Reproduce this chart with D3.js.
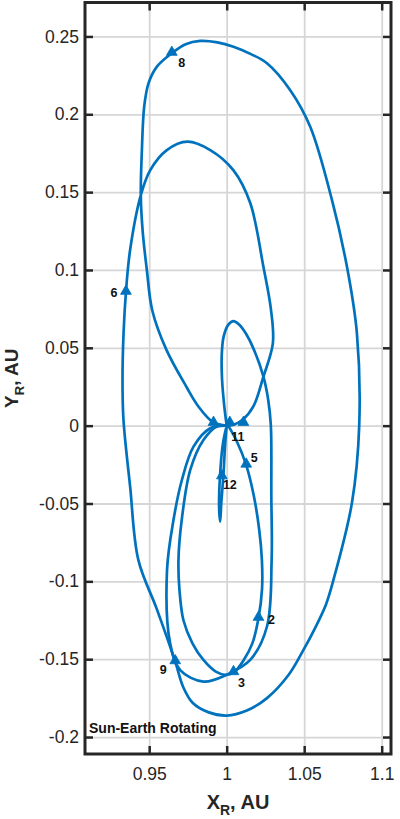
<!DOCTYPE html>
<html>
<head>
<meta charset="utf-8">
<script src="https://cdn.jsdelivr.net/npm/d3@7"></script>
<style>
  body { margin: 0; background: #fff; }
  svg { display: block; font-family: "Liberation Sans", Arial, Helvetica, sans-serif; }
</style>
</head>
<body>
<script>
// axis ticks
const xTicks = [0.95, 1, 1.05, 1.1];
const xTickLabels = ["0.95", "1", "1.05", "1.1"];
const yTicks = [-0.2, -0.15, -0.1, -0.05, 0, 0.05, 0.1, 0.15, 0.2, 0.25];
const yTickLabels = ["-0.2", "-0.15", "-0.1", "-0.05", "0", "0.05", "0.1", "0.15", "0.2", "0.25"];

// trajectory pieces, [X_R, Y_R] in AU
// small loop above Earth, then down the right leg and round the lower loop
const smallLoop = [
  [1.000, 0.000], [0.9985, 0.012], [0.997, 0.030], [0.9968, 0.045], [0.998, 0.057],
  [1.0012, 0.065], [1.0044, 0.0672], [1.008, 0.065], [1.0125, 0.059], [1.0175, 0.049],
  [1.0237, 0.0315], [1.0268, 0.0165], [1.0285, 0.000], [1.0288, -0.045], [1.029, -0.0862],
  [1.026, -0.129], [1.0152, -0.1505], [1.000, -0.160], [0.985, -0.1644], [0.970, -0.157],
  [0.9635, -0.1396], [0.9615, -0.093], [0.9657, -0.0605], [0.9711, -0.0349], [0.9786, -0.0135],
  [0.9894, -0.0017], [1.0, 0.0]
];
const lowerLoop = [
  [1.001, 0.0], [1.0065, -0.010], [1.0126, -0.0253], [1.0175, -0.045], [1.021, -0.067],
  [1.0227, -0.086], [1.0228, -0.105], [1.0205, -0.1237], [1.0165, -0.140], [1.011, -0.1505],
  [1.0044, -0.1586], [0.999, -0.160], [0.993, -0.158], [0.985, -0.1505], [0.978, -0.140],
  [0.9721, -0.125], [0.9695, -0.105], [0.9689, -0.086], [0.971, -0.0605], [0.9765, -0.0284],
  [0.985, -0.0092], [0.9937, -0.0005], [1.0, 0.0]
];
const outerLoop = [
  [1.0, 0.0], [0.9915, 0.002], [0.982, 0.012], [0.974, 0.025], [0.961, 0.049],
  [0.952, 0.074], [0.9485, 0.100], [0.9458, 0.125], [0.9446, 0.148], [0.9453, 0.177],
  [0.9468, 0.205], [0.9496, 0.220], [0.955, 0.2306], [0.9646, 0.2392], [0.9735, 0.2450],
  [0.9829, 0.2471], [0.994, 0.2462], [1.0044, 0.2434], [1.016, 0.2385], [1.026, 0.2328],
  [1.041, 0.2155], [1.0539, 0.192], [1.0679, 0.145], [1.0776, 0.102], [1.084, 0.0594],
  [1.0855, 0.0], [1.0808, -0.0496], [1.0687, -0.0997], [1.064, -0.115], [1.057, -0.130],
  [1.049, -0.145], [1.040, -0.160], [1.026, -0.175], [1.013, -0.183], [1.000, -0.1862],
  [0.988, -0.184], [0.978, -0.178], [0.972, -0.168], [0.9668, -0.1516], [0.955, -0.118],
  [0.943, -0.0862], [0.9377, -0.039], [0.9334, 0.004], [0.9328, 0.030], [0.9335, 0.060],
  [0.935, 0.0857], [0.9377, 0.1128], [0.9446, 0.148], [0.9506, 0.164], [0.9614, 0.177],
  [0.9747, 0.1824], [0.9894, 0.177], [1.0044, 0.164], [1.0152, 0.143], [1.0237, 0.102],
  [1.0285, 0.075], [1.0298, 0.053], [1.0237, 0.0315], [1.0173, 0.0125], [1.0105, 0.004],
  [1.004, 0.0005], [1.0, 0.0]
];
const finalLeg = [
  [1.0, 0.0], [0.999, -0.012], [0.998, -0.030], [0.9965, -0.050], [0.9958, -0.0617],
  [0.9951, -0.052], [0.9957, -0.032], [0.9975, -0.012], [0.9995, -0.002]
];

// monthly markers
const monthLabels = ["2", "3", "5", "6", "8", "9", "11", "12", "", ""];
const monthX = [1.0205, 1.0044, 1.0126, 0.935, 0.9646, 0.9668, 1.002, 0.9969, 0.9915, 1.0108];
const monthY = [-0.1237, -0.1586, -0.0253, 0.0857, 0.2392, -0.1516, 0.0015, -0.0328, 0.0015, 0.0015];

// label placement (pixels from marker)
const labelShift = {
  "2": [13, 2], "3": [8, 10], "5": [8, -7], "6": [-12, 1],
  "8": [10, 10], "9": [-12, 8], "11": [8, 14], "12": [8, 8]
};

var width = 400, height = 819;
var pL = 85, pR = 391, pT = 2.5, pB = 754;
var blue = "#0072BD", ink = "#262626";

var svg = d3.select("body").append("svg")
  .attr("width", width)
  .attr("height", height);

var x = d3.scaleLinear().domain([0.9086, 1.106]).range([pL, pR]);
var y = d3.scaleLinear().domain([-0.2109, 0.2718]).range([pB, pT]);

// grid
svg.append("g")
  .attr("transform", `translate(0,${pB})`)
  .call(d3.axisBottom(x).tickValues(xTicks).tickSize(-(pB - pT)).tickFormat(""))
  .call(g => g.select(".domain").remove())
  .call(g => g.selectAll("line").attr("stroke", "#d6d6d6").attr("stroke-width", 1.8));
svg.append("g")
  .attr("transform", `translate(${pL},0)`)
  .call(d3.axisLeft(y).tickValues(yTicks).tickSize(-(pR - pL)).tickFormat(""))
  .call(g => g.select(".domain").remove())
  .call(g => g.selectAll("line").attr("stroke", "#d6d6d6").attr("stroke-width", 1.8));

// trajectory
var line = d3.line()
  .x(d => x(d[0]))
  .y(d => y(d[1]))
  .curve(d3.curveCatmullRom.alpha(0.5));

[smallLoop, lowerLoop, outerLoop, finalLeg].forEach(function (piece) {
  svg.append("path")
    .datum(piece)
    .attr("d", line)
    .attr("fill", "none")
    .attr("stroke", blue)
    .attr("stroke-width", 2.7)
    .attr("stroke-linejoin", "round")
    .attr("stroke-linecap", "round");
});

var tri = d3.symbol().type(d3.symbolTriangle).size(50);
var months = monthLabels.map((m, i) => ({ m: m, x: monthX[i], y: monthY[i] }));

svg.append("g").selectAll("path")
  .data(months)
  .join("path")
  .attr("d", tri)
  .attr("transform", d => `translate(${x(d.x)},${y(d.y) - 1})`)
  .attr("fill", blue)
  .attr("stroke", blue)
  .attr("stroke-width", 0.8);

svg.append("g").selectAll("text")
  .data(months.filter(d => d.m !== ""))
  .join("text")
  .attr("x", d => x(d.x) + labelShift[d.m][0])
  .attr("y", d => y(d.y) + labelShift[d.m][1])
  .attr("text-anchor", "middle")
  .attr("dominant-baseline", "central")
  .attr("font-size", 12.5)
  .attr("font-weight", "bold")
  .attr("fill", "#111")
  .text(d => d.m);

// axes with ticks inside the box
var xAxis = d3.axisBottom(x).tickValues(xTicks).tickSize(-8).tickPadding(14)
  .tickFormat((d, i) => xTickLabels[i]);
var yAxis = d3.axisLeft(y).tickValues(yTicks).tickSize(-8).tickPadding(6)
  .tickFormat((d, i) => yTickLabels[i]);

function styleAxis(g) {
  g.select(".domain").remove();
  g.selectAll("line").attr("stroke", ink).attr("stroke-width", 2.5);
  g.selectAll("text").attr("fill", ink).attr("font-size", 17.5)
    .attr("font-family", "\"Liberation Sans\", Arial, sans-serif");
}

svg.append("g").attr("transform", `translate(0,${pB})`).call(xAxis).call(styleAxis);
svg.append("g").attr("transform", `translate(${pL},0)`).call(yAxis).call(styleAxis);
svg.append("g").attr("transform", `translate(0,${pT})`)
  .call(d3.axisTop(x).tickValues(xTicks).tickSize(-8).tickFormat("")).call(styleAxis);
svg.append("g").attr("transform", `translate(${pR},0)`)
  .call(d3.axisRight(y).tickValues(yTicks).tickSize(-8).tickFormat("")).call(styleAxis);

// box
svg.append("rect")
  .attr("x", pL).attr("y", pT)
  .attr("width", pR - pL).attr("height", pB - pT)
  .attr("fill", "none")
  .attr("stroke", ink)
  .attr("stroke-width", 3);

// text
svg.append("text")
  .attr("x", 89).attr("y", 733)
  .attr("font-size", 14).attr("font-weight", "bold").attr("fill", "#111")
  .text("Sun-Earth Rotating");

var xl = svg.append("text")
  .attr("x", (pL + pR) / 2).attr("y", 809)
  .attr("text-anchor", "middle")
  .attr("font-size", 20).attr("font-weight", "bold").attr("fill", ink);
xl.append("tspan").text("X");
xl.append("tspan").attr("font-size", 14).attr("dy", 6).text("R");
xl.append("tspan").attr("dy", -6).text(", AU");

var yl = svg.append("text")
  .attr("transform", `translate(18,${(pT + pB) / 2}) rotate(-90)`)
  .attr("text-anchor", "middle")
  .attr("font-size", 19).attr("font-weight", "bold").attr("fill", ink);
yl.append("tspan").text("Y");
yl.append("tspan").attr("font-size", 13).attr("dy", 6).text("R");
yl.append("tspan").attr("dy", -6).text(", AU");
</script>
</body>
</html>
